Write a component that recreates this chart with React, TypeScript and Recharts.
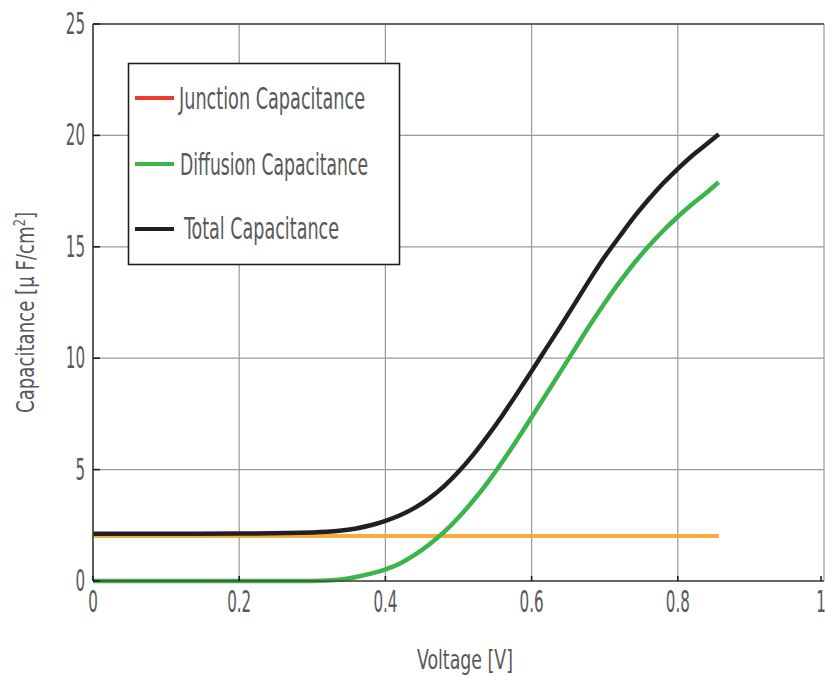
import {
  LineChart,
  Line,
  XAxis,
  YAxis,
  CartesianGrid,
  ReferenceLine,
} from "recharts";

// voltage samples [V]
const voltage = [
  0, 0.1, 0.2, 0.3, 0.32, 0.34, 0.36, 0.38, 0.4, 0.42, 0.44, 0.46, 0.48, 0.5,
  0.52, 0.54, 0.56, 0.58, 0.6, 0.62, 0.64, 0.66, 0.68, 0.7, 0.72, 0.74, 0.76,
  0.78, 0.8, 0.82, 0.84, 0.856,
];

// capacitances [uF/cm2]
const junction = [
  2.02, 2.02, 2.02, 2.02, 2.02, 2.02, 2.02, 2.02, 2.02, 2.02, 2.02, 2.02, 2.02,
  2.02, 2.02, 2.02, 2.02, 2.02, 2.02, 2.02, 2.02, 2.02, 2.02, 2.02, 2.02, 2.02,
  2.02, 2.02, 2.02, 2.02, 2.02, 2.02,
];

const diffusion = [
  0, 0, 0, 0, 0.02, 0.07, 0.18, 0.33, 0.52, 0.79, 1.17, 1.64, 2.19, 2.85, 3.6,
  4.43, 5.35, 6.33, 7.35, 8.38, 9.42, 10.46, 11.5, 12.48, 13.4, 14.25, 15.02,
  15.72, 16.35, 16.92, 17.45, 17.9,
];

const total = [
  2.12, 2.12, 2.13, 2.18, 2.21, 2.27, 2.36, 2.5, 2.7, 2.95, 3.28, 3.71, 4.25,
  4.9, 5.66, 6.51, 7.43, 8.41, 9.42, 10.44, 11.46, 12.5, 13.55, 14.55, 15.45,
  16.33, 17.12, 17.85, 18.5, 19.1, 19.62, 20.05,
];

const xTicks = [0, 0.2, 0.4, 0.6, 0.8, 1];
const yTicks = [0, 5, 10, 15, 20, 25];

const seriesNames = [
  "Junction Capacitance",
  "Diffusion Capacitance",
  "Total Capacitance",
];

const FONT = "'DejaVu Sans Condensed', 'DejaVu Sans', sans-serif";
const TEXT = "#58595b";
const SQ = 0.56; // horizontal squeeze for the narrow tick digits
const AXIS_Y = 581;
const AXIS_X = 93;

const data = voltage.map((v, i) => ({
  v,
  junction: junction[i],
  diffusion: diffusion[i],
  total: total[i],
}));

// legend rows: junction is red in the key but orange in the plot
const legendRows = [
  { name: seriesNames[0], color: "#ee3a2f", tx: 179, len: 186, base: 109, ly: 98 },
  { name: seriesNames[1], color: "#3bb54a", tx: 180, len: 188, base: 175, ly: 164 },
  { name: seriesNames[2], color: "#231f20", tx: 184, len: 155, base: 239, ly: 229 },
];

// tick label plus a short inward tick mark
const XTick = ({ x, payload }: any) => (
  <g>
    <line x1={x} x2={x} y1={AXIS_Y} y2={AXIS_Y - 5} stroke="#231f20" strokeWidth={1.6} />
    <text
      transform={`translate(${x}, ${AXIS_Y + 31}) scale(${SQ}, 1)`}
      textAnchor="middle"
      fill={TEXT}
      fontFamily={FONT}
      fontSize={30}
    >
      {String(payload.value)}
    </text>
  </g>
);

const YTick = ({ y, payload }: any) => (
  <g>
    <line x1={AXIS_X} x2={AXIS_X + 7} y1={y} y2={y} stroke="#231f20" strokeWidth={1.6} />
    <text
      transform={`translate(${AXIS_X - 8}, ${y + 10}) scale(${SQ}, 1)`}
      textAnchor="end"
      fill={TEXT}
      fontFamily={FONT}
      fontSize={30}
    >
      {String(payload.value)}
    </text>
  </g>
);

const YTitle = ({ viewBox }: any) => {
  const cy = viewBox.y + viewBox.height / 2 + 10;
  return (
    <text
      transform={`translate(34, ${cy}) rotate(-90)`}
      textAnchor="middle"
      fill={TEXT}
      fontFamily={FONT}
      fontSize={24}
      textLength={201}
      lengthAdjust="spacingAndGlyphs"
    >
      Capacitance [µ F/cm
      <tspan dy={-9} fontSize={15}>
        2
      </tspan>
      <tspan dy={9}>]</tspan>
    </text>
  );
};

const XTitle = () => (
  <text
    x={417}
    y={669}
    fill={TEXT}
    fontFamily={FONT}
    fontSize={27}
    textLength={96}
    lengthAdjust="spacingAndGlyphs"
  >
    Voltage [V]
  </text>
);

const LegendBox = () => (
  <svg
    width={825}
    height={677}
    style={{ position: "absolute", left: 0, top: 0, pointerEvents: "none" }}
  >
    <rect
      x={128.5}
      y={63.5}
      width={271}
      height={201}
      fill="#fff"
      stroke="#231f20"
      strokeWidth={1.6}
    />
    {legendRows.map((r) => (
      <g key={r.name}>
        <line
          x1={135}
          x2={174}
          y1={r.ly}
          y2={r.ly}
          stroke={r.color}
          strokeWidth={4}
        />
        <text
          x={r.tx}
          y={r.base}
          fill={TEXT}
          fontFamily={FONT}
          fontSize={30}
          textLength={r.len}
          lengthAdjust="spacingAndGlyphs"
        >
          {r.name}
        </text>
      </g>
    ))}
  </svg>
);

const App = () => {
  return (
    <div
      style={{
        position: "absolute",
        left: 0,
        top: 0,
        width: 825,
        height: 677,
        background: "#fff",
      }}
    >
      <LineChart
        width={825}
        height={677}
        data={data}
        margin={{ top: 24, right: 1, left: 0, bottom: 0 }}
      >
        <CartesianGrid stroke="#9a9a9a" strokeWidth={1.2} />
        <XAxis
          dataKey="v"
          type="number"
          domain={[0, 1]}
          ticks={xTicks}
          height={96}
          tickLine={false}
          tickSize={0}
          tickMargin={0}
          axisLine={{ stroke: "#444", strokeWidth: 1.6 }}
          tick={<XTick />}
        />
        <YAxis
          type="number"
          domain={[0, 25]}
          ticks={yTicks}
          width={93}
          tickLine={false}
          tickSize={0}
          tickMargin={0}
          axisLine={{ stroke: "#444", strokeWidth: 1.6 }}
          tick={<YTick />}
          label={<YTitle />}
        />
        <ReferenceLine y={25} stroke="#444" strokeWidth={1.6} />
        <Line
          dataKey="junction"
          name={seriesNames[0]}
          stroke="#f9ab3c"
          strokeWidth={4}
          dot={false}
          type="monotone"
          isAnimationActive={false}
        />
        <Line
          dataKey="diffusion"
          name={seriesNames[1]}
          stroke="#3bb54a"
          strokeWidth={4.5}
          dot={false}
          type="monotone"
          isAnimationActive={false}
        />
        <Line
          dataKey="total"
          name={seriesNames[2]}
          stroke="#231f20"
          strokeWidth={4.5}
          dot={false}
          type="monotone"
          isAnimationActive={false}
        />
      </LineChart>
      <svg
        width={825}
        height={677}
        style={{ position: "absolute", left: 0, top: 0, pointerEvents: "none" }}
      >
        <XTitle />
      </svg>
      <LegendBox />
    </div>
  );
};

export default App;
